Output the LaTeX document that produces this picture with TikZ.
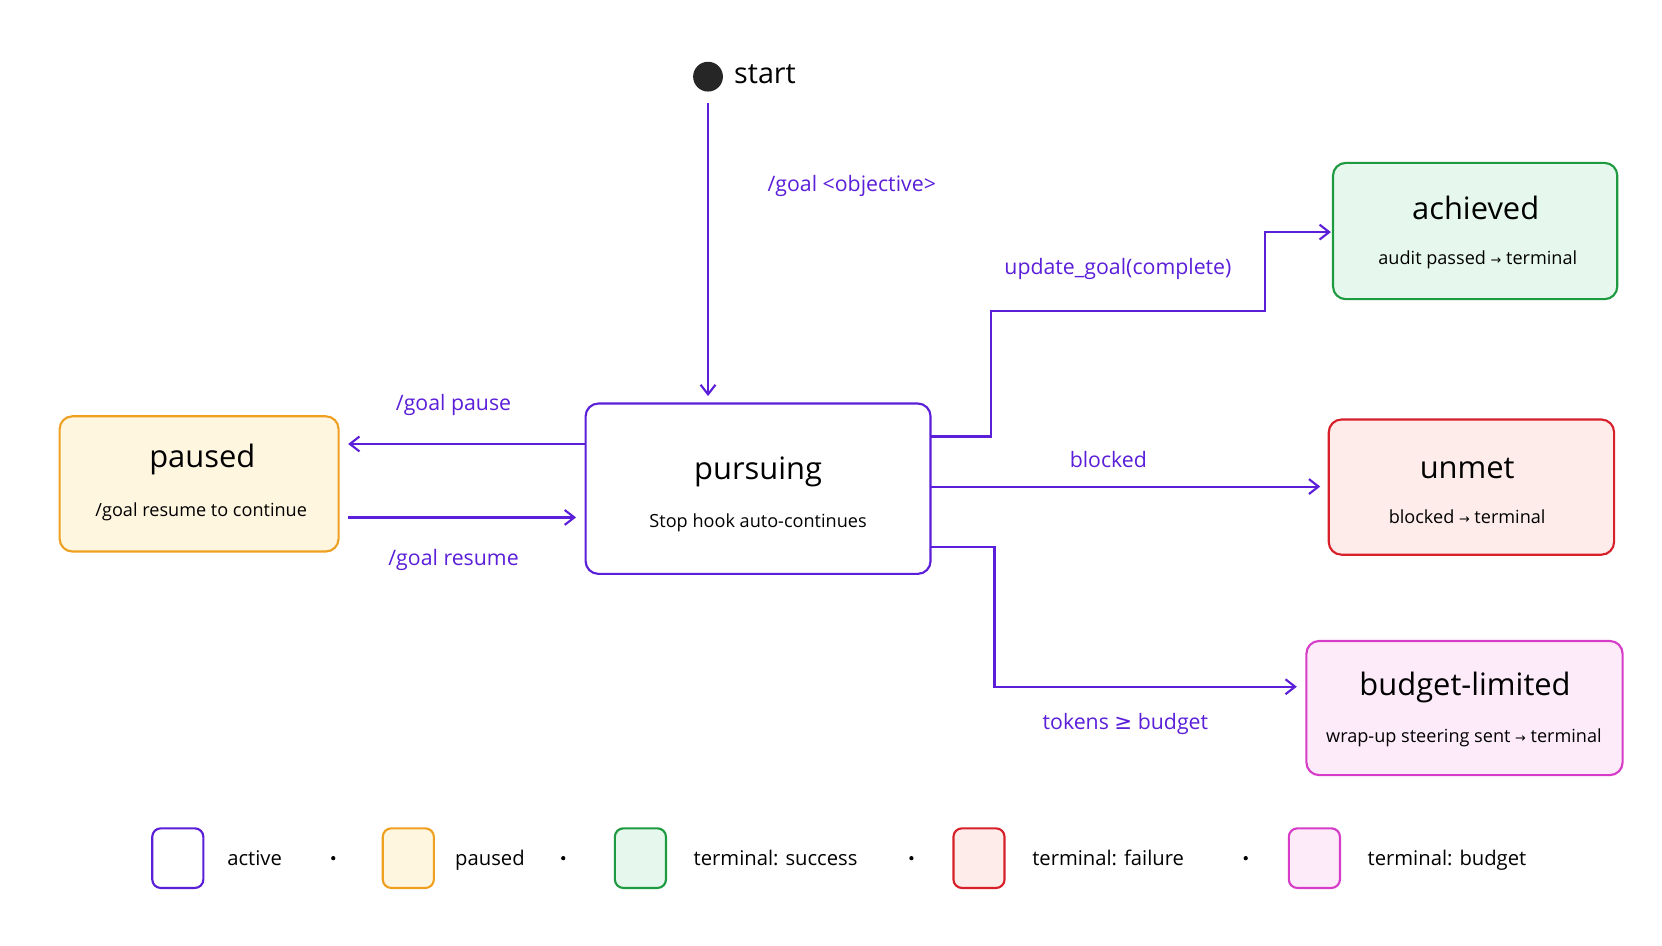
\documentclass[tikz,border=0pt]{standalone}
\usepackage{fontspec}
\setmainfont{Open Sans}
\newfontfamily\sym{DejaVu Sans}
\usetikzlibrary{arrows.meta}
\definecolor{act}{HTML}{5B1FD9}
\definecolor{pauC}{HTML}{F0A020}\definecolor{pauF}{HTML}{FFF6E0}
\definecolor{sucC}{HTML}{1E9A40}\definecolor{sucF}{HTML}{E6F8EE}
\definecolor{failC}{HTML}{D8202A}\definecolor{failF}{HTML}{FDECEA}
\definecolor{budC}{HTML}{D63CC8}\definecolor{budF}{HTML}{FDEBF9}
\newcommand{\ar}{{\sym\fontsize{12}{12}\selectfont →}}
\begin{document}
\begin{tikzpicture}[x=1pt,y=-1pt,
  st/.style={draw,line width=2pt,rounded corners=12pt},
  ttl/.style={font=\fontsize{29}{30}\selectfont,text=black},
  sub/.style={font=\fontsize{17}{18}\selectfont,text=black},
  lab/.style={font=\fontsize{20}{22}\selectfont,text=act},
  con/.style={draw=act,line width=2pt,-{Straight Barb[length=9pt,width=14pt,line width=2pt]}},
  leg/.style={draw,line width=2pt,rounded corners=8pt,minimum width=48pt,minimum height=56pt},
  legt/.style={font=\fontsize{19}{20}\selectfont,anchor=base west,text=black},
  dot/.style={circle,fill=black,inner sep=0pt,minimum size=4pt}]
\useasboundingbox (0,0) rectangle (1561,888);
\fill[white] (0,0) rectangle (1561,888);
% states
\node[st,draw=act,fill=white,minimum width=324pt,minimum height=160pt] (pur) at (712,459) {};
\node[ttl] at (712,443) {pursuing};
\node[sub] at (712,491) {Stop hook auto-continues};
\node[st,draw=pauC,fill=pauF,minimum width=262pt,minimum height=127pt] (pau) at (187,454.5) {};
\node[ttl] at (190,432) {paused};
\node[sub] at (189,481) {/goal resume to continue};
\node[st,draw=sucC,fill=sucF,minimum width=267pt,minimum height=128pt] (ach) at (1385.5,217) {};
\node[ttl] at (1386,195) {achieved};
\node[sub] at (1388,244) {audit passed \ar\ terminal};
\node[st,draw=failC,fill=failF,minimum width=268pt,minimum height=127pt] (unm) at (1382,457.5) {};
\node[ttl] at (1378,440) {unmet};
\node[sub] at (1378,485) {blocked \ar\ terminal};
\node[st,draw=budC,fill=budF,minimum width=297pt,minimum height=126pt] (bud) at (1375.5,665) {};
\node[ttl] at (1376,646) {budget-limited};
\node[sub] at (1375,693) {wrap-up steering sent \ar\ terminal};
% start
\node[circle,fill=black!85,minimum size=28pt,inner sep=0pt] (s) at (665,72) {};
\node[font=\fontsize{27}{28}\selectfont,anchor=west] at (686,70) {start};
% connectors
\coordinate (s1) at (665,97);
\coordinate (p1) at (665,372);
\draw[con] (s1) -- (p1);
\node[lab] at (800,175) {/goal <objective>};
\draw[con] (pur.west |- 0,417) -- (327,417);
\node[lab] at (426,380) {/goal pause};
\draw[con] (327,486) -- (541,486);
\node[lab] at (426,526) {/goal resume};
\draw[con] (874,410) -- (931,410) -- (931,292) -- (1188,292) -- (1188,218) -- (1250,218);
\node[lab] at (1050,253) {update\_goal(complete)};
\draw[con] (874,457) -- (1240,457);
\node[lab] at (1041,432) {blocked};
\draw[con] (874,514) -- (934,514) -- (934,645) -- (1218,645);
\node[lab] at (1057,680) {tokens {\sym ≥} budget};
% legend
\node[leg,draw=act,fill=white] (l1) at (167,806) {};
\node[legt] at (210,813) {active};
\node[dot] at (313,806) {};
\node[leg,draw=pauC,fill=pauF] (l2) at (383.5,806) {};
\node[legt] at (424,813) {paused};
\node[dot] at (529,806) {};
\node[leg,draw=sucC,fill=sucF] (l3) at (601.5,806) {};
\node[legt] at (648,813) {terminal: success};
\node[dot] at (856,806) {};
\node[leg,draw=failC,fill=failF] (l4) at (919.5,806) {};
\node[legt] at (966,813) {terminal: failure};
\node[dot] at (1170,806) {};
\node[leg,draw=budC,fill=budF] (l5) at (1234.5,806) {};
\node[legt] at (1281,813) {terminal: budget};
\end{tikzpicture}
\end{document}
